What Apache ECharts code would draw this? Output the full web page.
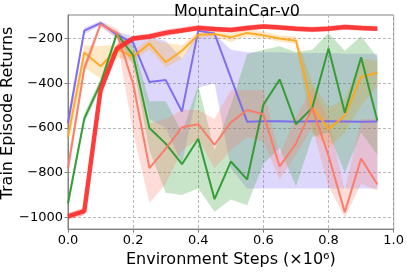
<!DOCTYPE html>
<html><head><meta charset="utf-8">
<script src="https://cdn.jsdelivr.net/npm/echarts@6/dist/echarts.min.js"></script>
<style>html,body{margin:0;padding:0;background:#fff}#c{width:407px;height:273px}</style>
</head><body><div id="c"></div>
<script>
const steps = [0, 0.05, 0.1, 0.15, 0.2, 0.25, 0.3, 0.35, 0.4, 0.45, 0.5, 0.55, 0.6, 0.65, 0.7, 0.75, 0.8, 0.85, 0.9, 0.95];
const xTicks = [0, 0.2, 0.4, 0.6, 0.8, 1.0];
const yTicks = [-1000, -800, -600, -400, -200];

const blueMean = [-578, -165, -131, -183, -219, -395, -386, -526, -165, -178, -375, -572, -570, -570, -572, -570, -570, -571, -572, -571];
const blueLo   = [-620, -180, -142, -200, -245, -560, -600, -760, -420, -400, -780, -870, -870, -870, -870, -870, -870, -870, -870, -870];
const blueHi   = [-540, -152, -122, -170, -190, -195, -210, -290, -175, -180, -250, -262, -262, -262, -265, -265, -265, -268, -268, -268];

const orangeMean = [-640, -263, -324, -248, -281, -223, -306, -255, -183, -180, -195, -175, -186, -200, -210, -505, -605, -546, -372, -353];
const orangeLo   = [-680, -330, -380, -285, -300, -250, -330, -290, -198, -195, -215, -190, -200, -215, -225, -620, -690, -620, -500, -415];
const orangeHi   = [-600, -230, -235, -225, -255, -200, -220, -230, -168, -165, -178, -160, -170, -185, -190, -400, -510, -470, -290, -300];

const greenMean = [-937, -558, -401, -178, -275, -600, -670, -762, -648, -918, -750, -830, -496, -383, -583, -510, -245, -532, -284, -568];
const greenLo   = [-960, -580, -420, -195, -320, -700, -890, -900, -870, -975, -920, -945, -760, -690, -860, -640, -620, -800, -620, -720];
const greenHi   = [-910, -535, -380, -165, -230, -480, -480, -620, -410, -700, -500, -270, -250, -235, -260, -250, -175, -255, -190, -285];

const salmonMean = [-780, -335, -136, -175, -401, -779, -692, -597, -583, -675, -575, -520, -539, -772, -670, -510, -725, -976, -737, -852];
const salmonLo   = [-820, -360, -150, -200, -620, -935, -850, -700, -650, -780, -700, -640, -660, -830, -720, -600, -860, -1000, -850, -880];
const salmonHi   = [-740, -310, -122, -155, -250, -580, -560, -520, -520, -560, -430, -430, -430, -720, -550, -420, -560, -880, -560, -560];

const redMean = [-995, -972, -430, -245, -200, -191, -175, -164, -153, -158, -162, -153, -146, -151, -156, -160, -156, -149, -153, -156];
const redLo   = [-1010, -990, -470, -265, -212, -203, -190, -176, -166, -170, -173, -165, -158, -162, -168, -172, -168, -162, -165, -167];
const redHi   = [-980, -955, -395, -225, -188, -178, -160, -150, -140, -146, -150, -141, -134, -139, -144, -147, -143, -137, -141, -144];

const groups = [
  {name: 'blue', color: '#7B68EE', mean: blueMean, lo: blueLo, hi: blueHi, w: 2},
  {name: 'orange', color: '#FFA620', mean: orangeMean, lo: orangeLo, hi: orangeHi, w: 2},
  {name: 'green', color: '#2E9A2E', mean: greenMean, lo: greenLo, hi: greenHi, w: 2},
  {name: 'salmon', color: '#FA7A68', mean: salmonMean, lo: salmonLo, hi: salmonHi, w: 2},
  {name: 'red', color: '#FF2A2A', mean: redMean, lo: redLo, hi: redHi, w: 4.5}
];

function pairs(ys) { return steps.map((x, i) => [x, ys[i]]); }

const series = [];
groups.forEach(g => {
  series.push({
    type: 'custom', silent: true, z: 1, clip: true,
    data: steps.map((x, i) => [x, g.lo[i], g.hi[i]]),
    encode: {x: 0, y: [1, 2]},
    renderItem: function (params, api) {
      if (params.dataIndex !== 0) return null;
      const top = steps.map((x, i) => api.coord([x, g.hi[i]]));
      const bot = steps.map((x, i) => api.coord([x, g.lo[i]])).reverse();
      return {
        type: 'polygon',
        shape: {points: top.concat(bot)},
        style: {fill: g.color, opacity: 0.26, stroke: null}
      };
    }
  });
});
groups.forEach((g, k) => {
  series.push({
    type: 'line', symbol: 'none', data: pairs(g.mean), z: 3 + k,
    lineStyle: {color: g.color, width: g.w, opacity: g.name === 'red' ? 0.9 : 0.95}
  });
});

const chart = echarts.init(document.getElementById('c'), null, {renderer: 'canvas'});
const font = 'DejaVu Sans';
chart.setOption({
  animation: false,
  backgroundColor: '#fff',
  title: {
    text: 'MountainCar-v0', left: 232, top: -1, textAlign: 'center',
    textStyle: {fontFamily: font, fontSize: 16, fontWeight: 'normal', color: '#000'}
  },
  grid: {left: 68, right: 11, top: 15, bottom: 39, show: true, borderColor: '#808080', borderWidth: 1},
  xAxis: {
    type: 'value', min: 0, max: 1, interval: 0.2,
    name: 'Environment Steps (×10⁶)', nameLocation: 'middle', nameGap: 20,
    nameTextStyle: {fontFamily: font, fontSize: 16, color: '#000'},
    axisLine: {show: true, lineStyle: {color: '#808080'}},
    axisTick: {show: true, length: 3.5, lineStyle: {color: '#808080'}},
    axisLabel: {fontFamily: font, fontSize: 13, color: '#000', margin: 5, formatter: v => v.toFixed(1)},
    splitLine: {show: true, lineStyle: {color: '#b8b8b8', type: [3, 2], width: 1}}
  },
  yAxis: {
    type: 'value', min: -1052, max: -95,
    axisLine: {show: true, lineStyle: {color: '#808080'}},
    axisTick: {show: true, length: 3.5, customValues: yTicks, lineStyle: {color: '#808080'}},
    axisLabel: {fontFamily: font, fontSize: 13, color: '#000', margin: 5, customValues: yTicks,
      formatter: v => (v < 0 ? '\u2212' + Math.abs(v) : String(v))},
    splitLine: {show: true, customValues: yTicks, lineStyle: {color: '#b8b8b8', type: [3, 2], width: 1}}
  },
  graphic: [{
    type: 'text', x: 8, y: 113, rotation: Math.PI / 2,
    style: {text: 'Train Episode Returns', font: '16px "DejaVu Sans"', fill: '#000', textAlign: 'center', textVerticalAlign: 'middle'}
  }],
  series: series
});
</script></body></html>
